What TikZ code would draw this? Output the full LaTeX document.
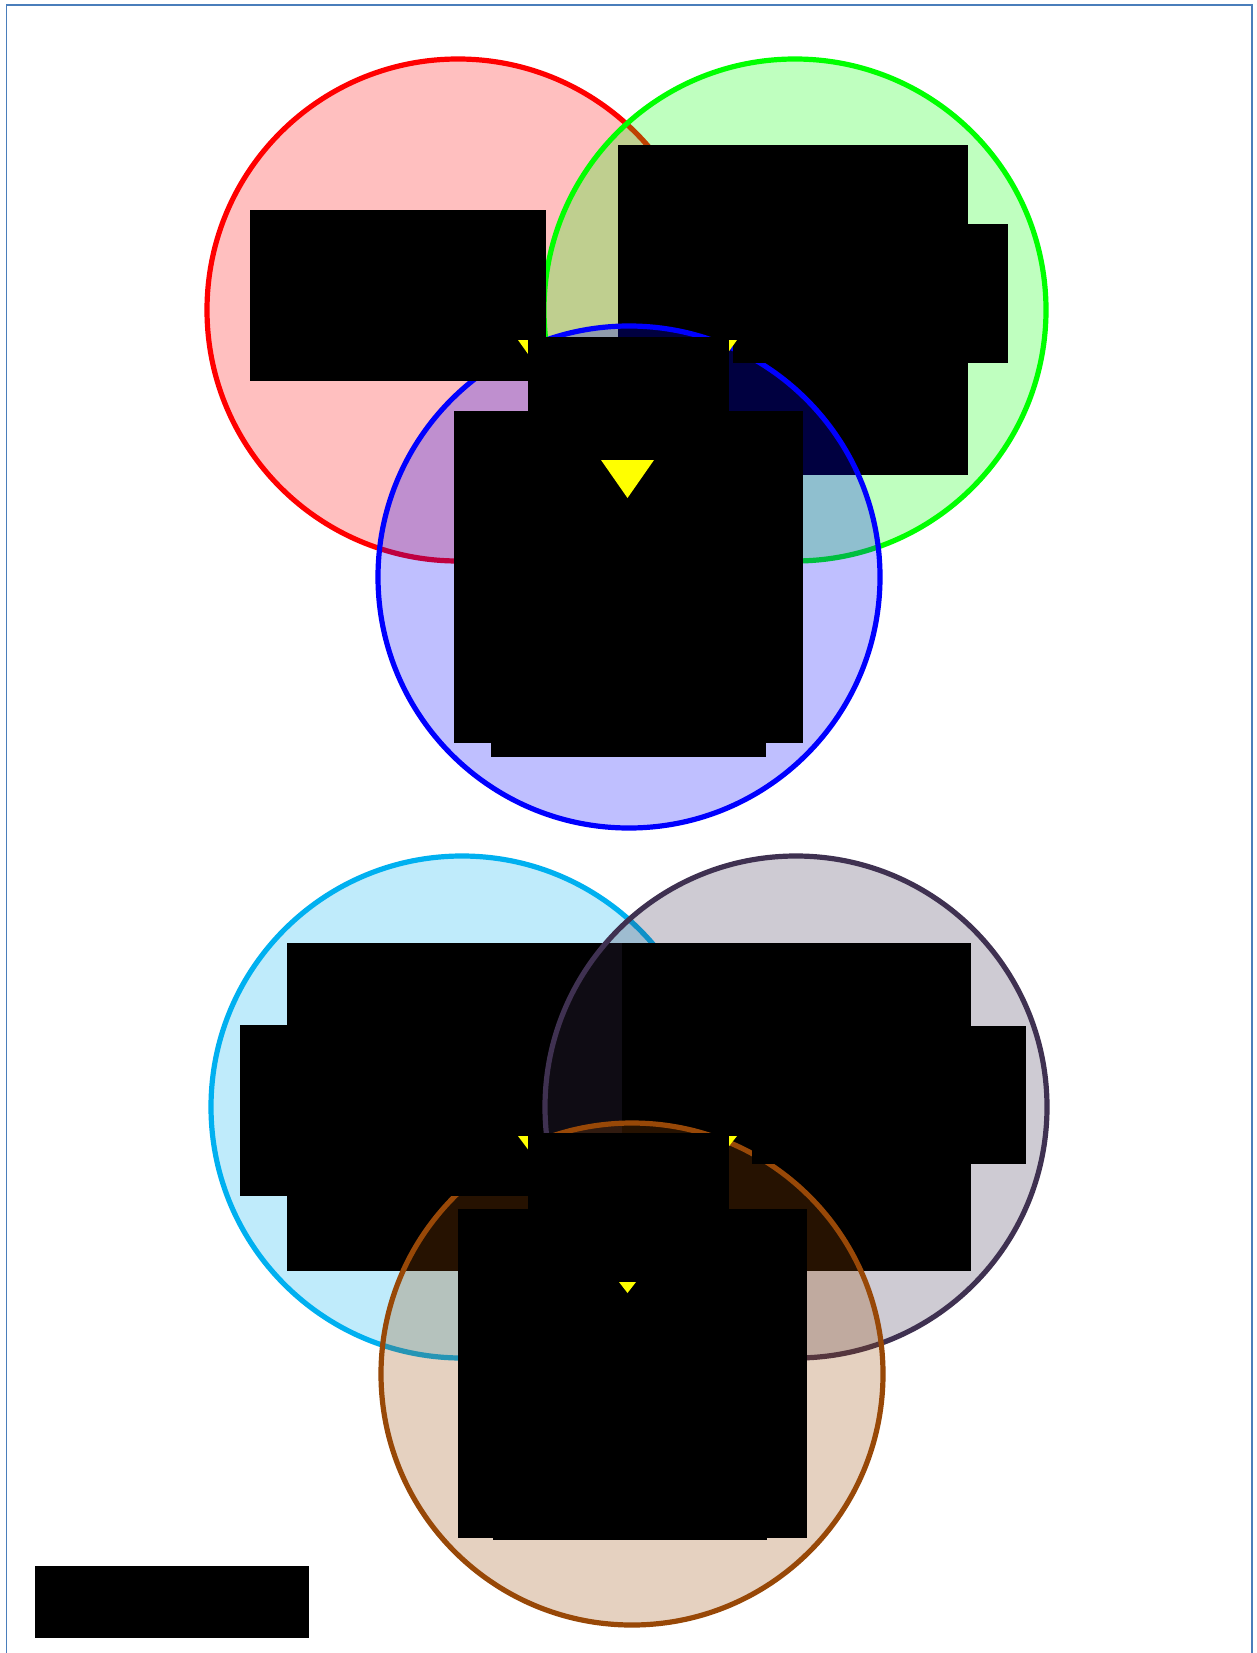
\documentclass[tikz,border=0pt]{standalone}
\usetikzlibrary{fit}
\definecolor{bordercol}{HTML}{4A7EBB}
\definecolor{cyanc}{HTML}{00B0F0}
\definecolor{purplec}{HTML}{3F3151}
\definecolor{brownc}{HTML}{984807}
\definecolor{yel}{HTML}{FFFF00}
\begin{document}
\begin{tikzpicture}[x=0.5pt,y=-0.5pt,
  venn/.style={circle, inner sep=0pt, outer sep=0pt, minimum size=251pt,
    line width=2.6pt, fill opacity=0.25, draw opacity=1},
  blk/.style={fill=black, inner sep=0pt, outer sep=0pt, draw=none},
  tri/.style={fill=yel, draw=none}]
\useasboundingbox (0,0) rectangle (1257,1653);
\fill[white] (0,0) rectangle (1257,1653);
\draw[bordercol, line width=0.75pt] (6.5,1653) -- (6.5,5) -- (1252,5) -- (1252,1653);

% ---- top group ----
\node[venn, draw=red, fill=red] (A) at (458,310) {};
\node[venn, draw=green, fill=green] (B) at (795,310) {};
\node[blk, fit={(618,145) (968,475)}] (Bmain) {};
\node[venn, draw=blue, fill=blue] (C) at (629,577) {};
\node[blk, fit={(250,210) (546,381)}] (Atxt) {};
\node[blk, fit={(733,224) (1008,363)}] (Bwide) {};
\fill[tri] (518,340) -- (548,340) -- (533,361) -- cycle;
\fill[tri] (707,340) -- (737,340) -- (722,361) -- cycle;
\node[blk, fit={(528,337) (729,411)}] (Ctop) {};
\node[blk, fit={(454,411) (803,743)}] (Cmain) {};
\node[blk, fit={(491,743) (766,757)}] (Clow) {};
\fill[tri] (601,460) -- (654,460) -- (627.5,498) -- cycle;

% ---- bottom group ----
\node[venn, draw=cyanc, fill=cyanc] (D) at (462,1107) {};
\node[blk, fit={(287,943) (622,1271)}] (Dmain) {};
\node[venn, draw=purplec, fill=purplec] (E) at (796,1107) {};
\node[blk, fit={(622,943) (971,1271)}] (Emain) {};
\node[venn, draw=brownc, fill=brownc] (F) at (632,1374) {};
\node[blk, fit={(240,1025) (540,1196)}] (Dwide) {};
\node[blk, fit={(752,1026) (1026,1164)}] (Ewide) {};
\fill[tri] (518,1136) -- (548,1136) -- (533,1156) -- cycle;
\fill[tri] (707,1136) -- (737,1136) -- (722,1155) -- cycle;
\node[blk, fit={(528,1133) (729,1209)}] (Ftop) {};
\node[blk, fit={(458,1209) (807,1538)}] (Fmain) {};
\node[blk, fit={(493,1538) (767,1540)}] (Flow) {};
\fill[tri] (619,1282) -- (636,1282) -- (627.5,1293) -- cycle;

% ---- legend ----
\node[blk, fit={(35,1566) (309,1638)}] (legend) {};
\end{tikzpicture}
\end{document}
